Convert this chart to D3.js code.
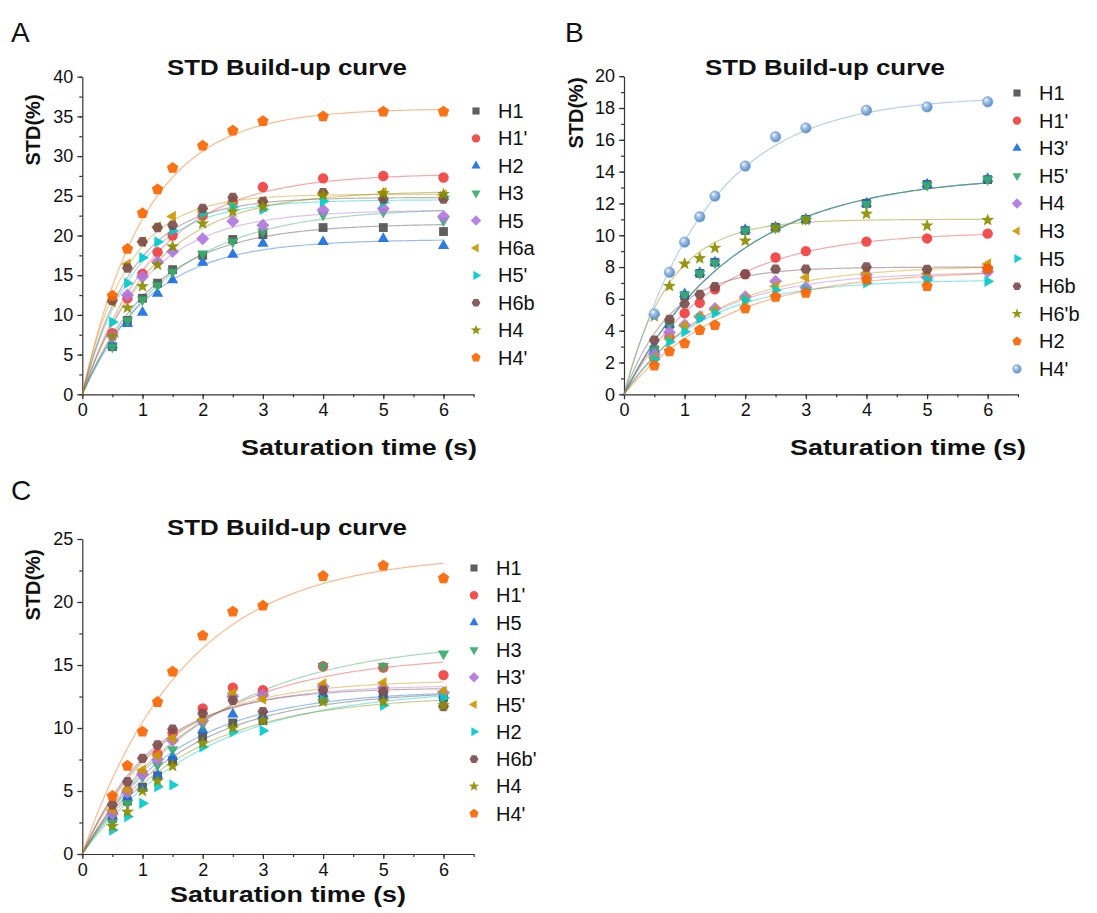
<!DOCTYPE html>
<html>
<head>
<meta charset="utf-8">
<title>STD Build-up curve</title>
<script src="https://d3js.org/d3.v7.min.js"></script>
<style>
body { margin: 0; background: #fff; }
text { font-family: "Liberation Sans", Arial, Helvetica, sans-serif; fill: #111; }
</style>
</head>
<body>
<svg width="1097" height="913"></svg>
<script>
// saturation times (s)
var times = [0.5, 0.75, 1, 1.25, 1.5, 2, 2.5, 3, 4, 5, 6];

// panel A
var namesA = ["H1", "H1'", "H2", "H3", "H5", "H6a", "H5'", "H6b", "H4", "H4'"];
var valuesA = [
    [6.0, 9.3, 12.1, 14.0, 15.7, 17.5, 19.5, 20.1, 21.0, 21.0, 20.5],
    [7.7, 12.1, 15.2, 17.9, 20.0, 22.5, 24.2, 26.1, 27.2, 27.5, 27.3],
    [6.2, 8.9, 10.3, 12.7, 14.4, 16.6, 17.6, 19.0, 19.2, 19.6, 18.7],
    [6.0, 9.3, 11.9, 13.7, 15.4, 17.7, 19.2, 20.5, 22.6, 23.0, 21.9],
    [7.3, 12.5, 14.8, 16.7, 18.0, 19.6, 21.8, 21.3, 23.2, 23.4, 22.4],
    [11.6, 16.4, 19.2, 21.1, 22.4, 23.0, 24.0, 24.3, 25.1, 25.4, 25.1],
    [9.1, 14.0, 17.2, 19.2, 20.6, 22.8, 23.6, 23.3, 24.3, 24.2, 24.9],
    [11.8, 15.9, 19.2, 21.0, 21.3, 23.4, 24.8, 24.3, 25.4, 24.6, 24.6],
    [7.3, 10.9, 13.6, 16.3, 18.6, 21.5, 23.0, 23.6, 25.1, 25.3, 25.2],
    [12.4, 18.3, 22.8, 25.8, 28.5, 31.3, 33.2, 34.4, 35.0, 35.6, 35.6]
];
// fitted build-up curves: [STDmax, ksat]
var fitA = [[21.5, 0.85], [27.8, 0.82], [19.5, 0.9], [23.5, 0.7], [23.2, 0.95],
            [25.2, 1.35], [24.5, 1.15], [24.8, 1.2], [25.6, 0.85], [36, 0.95]];

// panel B
var namesB = ["H1", "H1'", "H3'", "H5'", "H4", "H3", "H5", "H6b", "H6'b", "H2", "H4'"];
var valuesB = [
    [2.8, 4.4, 6.2, 7.6, 8.3, 10.3, 10.5, 11.0, 12.0, 13.2, 13.5],
    [2.3, 3.6, 5.1, 5.75, 6.6, 7.55, 8.6, 9.0, 9.6, 9.8, 10.1],
    [2.8, 4.4, 6.3, 7.65, 8.3, 10.35, 10.5, 11.0, 12.0, 13.2, 13.55],
    [2.8, 4.4, 6.25, 7.6, 8.25, 10.3, 10.45, 11.0, 11.95, 13.15, 13.5],
    [2.5, 3.9, 4.35, 4.87, 5.4, 6.13, 7.11, 6.72, 7.5, 7.35, 7.7],
    [2.3, 3.5, 4.3, 4.9, 5.3, 6.0, 6.8, 7.35, 7.65, 7.6, 8.2],
    [2.2, 3.3, 3.93, 4.77, 5.1, 5.92, 6.55, 6.6, 7.0, 7.18, 7.1],
    [3.4, 4.7, 5.7, 6.27, 6.76, 7.55, 7.87, 7.87, 8.0, 7.85, 7.9],
    [4.9, 6.8, 8.2, 8.55, 9.2, 9.65, 10.45, 10.95, 11.35, 10.6, 10.95],
    [1.8, 2.7, 3.2, 4.04, 4.35, 5.4, 6.13, 6.38, 7.2, 6.8, 7.9],
    [5.05, 7.67, 9.57, 11.16, 12.46, 14.35, 16.19, 16.75, 17.86, 18.07, 18.39]
];
var fitB = [[13.8, 0.55], [10.2, 0.7], [13.8, 0.55], [13.8, 0.55], [7.7, 0.75], [8.1, 0.7],
            [7.2, 0.8], [8.0, 1.3], [11.0, 1.35], [7.8, 0.6], [18.75, 0.72]];

// panel C
var namesC = ["H1", "H1'", "H5", "H3", "H3'", "H5'", "H2", "H6b'", "H4", "H4'"];
var valuesC = [
    [2.8, 4.2, 5.3, 6.2, 7.4, 9.3, 10.4, 10.6, 12.3, 12.6, 12.4],
    [3.3, 5.0, 6.4, 7.94, 9.6, 11.56, 13.2, 13.0, 14.9, 14.8, 14.2],
    [3.0, 4.5, 5.22, 6.27, 7.72, 9.84, 11.1, 11.0, 12.7, 12.7, 12.6],
    [2.5, 4.0, 6.14, 7.07, 8.3, 10.3, 12.4, 12.5, 14.9, 14.9, 15.9],
    [3.2, 4.9, 6.3, 7.5, 9.0, 10.6, 12.5, 12.6, 13.3, 13.2, 12.8],
    [3.5, 5.07, 6.67, 7.8, 9.18, 10.7, 12.75, 12.3, 13.5, 13.6, 12.9],
    [1.9, 2.97, 4.02, 5.34, 5.48, 8.5, 9.7, 9.79, 12.2, 11.8, 12.4],
    [3.9, 5.73, 7.59, 8.65, 9.9, 11.16, 12.2, 11.3, 13.0, 12.9, 11.7],
    [2.2, 3.35, 5.0, 5.8, 6.98, 8.78, 10.0, 10.6, 12.1, 12.1, 11.8],
    [4.6, 7.0, 9.7, 12.06, 14.47, 17.33, 19.23, 19.7, 22.06, 22.88, 21.88]
];
var fitC = [[13.0, 0.6], [15.8, 0.55], [13.0, 0.65], [17, 0.48], [13.4, 0.8], [13.8, 0.75],
            [13.2, 0.5], [13.2, 0.85], [12.6, 0.58], [23.8, 0.58]];

// Origin-like symbol / colour cycle
var symbols = ["square", "circle", "up", "down", "diamond", "left", "right", "hex", "star", "pent", "sphere"];
var colors = ["#515151", "#F14040", "#1A6FDF", "#37AD6B", "#B177DE", "#CC9900",
              "#00CBCC", "#7D4E4E", "#8E8E00", "#FB6501", "#6699CC"];

var svg = d3.select("svg");

var defs = svg.append("defs");
var grad = defs.append("radialGradient").attr("id", "sph")
    .attr("cx", "0.4").attr("cy", "0.4").attr("r", "0.6").attr("fx", "0.35").attr("fy", "0.3");
grad.append("stop").attr("offset", "0").attr("stop-color", "#ffffff");
grad.append("stop").attr("offset", "0.35").attr("stop-color", "#a9c6e6");
grad.append("stop").attr("offset", "1").attr("stop-color", "#5b8fc9");

function poly(n, r, rot) {
    var pts = [];
    for (var i = 0; i < n; i++) {
        var a = rot + i * 2 * Math.PI / n;
        pts.push([r * Math.cos(a), r * Math.sin(a)]);
    }
    return "M" + pts.join("L") + "Z";
}

function markerPath(type, r) {
    switch (type) {
        case "square": return poly(4, r * 1.2, Math.PI / 4);
        case "circle": return d3.symbol(d3.symbolCircle, Math.PI * r * r)();
        case "up": return poly(3, r * 1.25, -Math.PI / 2);
        case "down": return poly(3, r * 1.25, Math.PI / 2);
        case "left": return poly(3, r * 1.25, Math.PI);
        case "right": return poly(3, r * 1.25, 0);
        case "diamond": return poly(4, r * 1.25, 0);
        case "hex": return poly(6, r * 1.05, 0);
        case "pent": return poly(5, r * 1.15, -Math.PI / 2);
        case "star":
            var pts = [];
            for (var i = 0; i < 10; i++) {
                var rr = i % 2 ? r * 0.55 : r * 1.3;
                var a = -Math.PI / 2 + i * Math.PI / 5;
                pts.push([rr * Math.cos(a), rr * Math.sin(a)]);
            }
            return "M" + pts.join("L") + "Z";
        case "sphere": return d3.symbol(d3.symbolCircle, Math.PI * r * r)();
    }
}

function drawMarker(g, type, color, x, y, r) {
    var p = g.append("path")
        .attr("d", markerPath(type, r))
        .attr("transform", "translate(" + x + "," + y + ")");
    if (type === "sphere") {
        p.attr("fill", "url(#sph)").attr("stroke", "#6f9bd0").attr("stroke-width", 0.6);
    } else {
        p.attr("fill", color).attr("fill-opacity", 0.92);
    }
}

function panel(cfg) {
    var x = d3.scaleLinear().domain([0, 6.5]).range([cfg.left, cfg.right]);
    var y = d3.scaleLinear().domain([0, cfg.ymax]).range([cfg.bottom, cfg.top]);
    var g = svg.append("g");

    // minor ticks
    g.append("g").attr("transform", "translate(0," + cfg.bottom + ")")
        .call(d3.axisBottom(x).tickValues(d3.range(0, 6.51, 0.5)).tickSize(3).tickFormat(""))
        .call(function (a) { a.select(".domain").remove(); });
    g.append("g").attr("transform", "translate(" + cfg.left + ",0)")
        .call(d3.axisLeft(y).tickValues(d3.range(0, cfg.ymax + 0.01, cfg.ystep / 2)).tickSize(3).tickFormat(""))
        .call(function (a) { a.select(".domain").remove(); });

    // major ticks with labels
    g.append("g").attr("transform", "translate(0," + cfg.bottom + ")")
        .call(d3.axisBottom(x).tickValues(d3.range(0, 7, 1)).tickFormat(d3.format("d"))
            .tickSize(5).tickSizeOuter(0).tickPadding(4));
    g.append("g").attr("transform", "translate(" + cfg.left + ",0)")
        .call(d3.axisLeft(y).tickValues(d3.range(0, cfg.ymax + 0.01, cfg.ystep)).tickFormat(d3.format("d"))
            .tickSize(5).tickSizeOuter(0).tickPadding(4));
    g.selectAll(".tick line, .domain").attr("stroke", "#333").attr("stroke-width", 1.2);
    g.selectAll(".tick text").style("font-size", "18px").attr("fill", "#111")
        .style("font-family", "'Liberation Sans', Arial, sans-serif");

    // fitted curves
    var line = d3.line()
        .x(function (d) { return x(d[0]); })
        .y(function (d) { return y(d[1]); });
    var ts = d3.range(0, 6.001, 0.05);
    cfg.fits.forEach(function (f, i) {
        var pts = ts.map(function (t) { return [t, f[0] * (1 - Math.exp(-f[1] * t))]; });
        g.append("path").attr("d", line(pts)).attr("fill", "none")
            .attr("stroke", colors[i]).attr("stroke-opacity", 0.45).attr("stroke-width", 1.2);
    });

    // data points
    cfg.values.forEach(function (vals, i) {
        vals.forEach(function (v, j) {
            drawMarker(g, symbols[i], colors[i], x(times[j]), y(v), 5.2);
        });
    });

    // legend
    cfg.names.forEach(function (n, i) {
        var ly = cfg.legY + i * cfg.legDy;
        drawMarker(g, symbols[i], colors[i], cfg.legX, ly, 4.2);
        g.append("text").attr("x", cfg.legX + 22).attr("y", ly + 7)
            .style("font-size", "20px").text(n);
    });

    // titles
    g.append("text").attr("x", cfg.titleX).attr("y", cfg.titleY)
        .attr("text-anchor", "middle").style("font-size", "22px").style("font-weight", "bold")
        .attr("textLength", 240).attr("lengthAdjust", "spacingAndGlyphs")
        .text("STD Build-up curve");
    g.append("text").attr("x", cfg.xtX).attr("y", cfg.xtY)
        .attr("text-anchor", "middle").style("font-size", "22px").style("font-weight", "bold")
        .attr("textLength", 236).attr("lengthAdjust", "spacingAndGlyphs")
        .text("Saturation time (s)");
    g.append("text")
        .attr("transform", "translate(" + cfg.ytX + "," + cfg.ytY + ") rotate(-90)")
        .attr("text-anchor", "middle").style("font-size", "20px").style("font-weight", "bold")
        .text("STD(%)");
    g.append("text").attr("x", cfg.letX).attr("y", cfg.letY)
        .style("font-size", "28px").text(cfg.letter);
}

panel({
    letter: "A", letX: 11, letY: 42,
    left: 82.3, right: 473.6, top: 76.7, bottom: 394.3, ymax: 40, ystep: 5,
    names: namesA, values: valuesA, fits: fitA,
    legX: 476, legY: 111, legDy: 27.4,
    titleX: 287, titleY: 75, xtX: 359, xtY: 455, ytX: 40, ytY: 130
});
panel({
    letter: "B", letX: 565, letY: 42,
    left: 624, right: 1018, top: 76.2, bottom: 394.3, ymax: 20, ystep: 2,
    names: namesB, values: valuesB, fits: fitB,
    legX: 1017, legY: 93, legDy: 27.6,
    titleX: 825, titleY: 75, xtX: 908, xtY: 455, ytX: 583, ytY: 113
});
panel({
    letter: "C", letX: 11, letY: 500,
    left: 82.3, right: 473.6, top: 539, bottom: 854, ymax: 25, ystep: 5,
    names: namesC, values: valuesC, fits: fitC,
    legX: 474, legY: 568, legDy: 27.3,
    titleX: 287, titleY: 535, xtX: 288, xtY: 902, ytX: 40, ytY: 585
});
</script>
</body>
</html>
